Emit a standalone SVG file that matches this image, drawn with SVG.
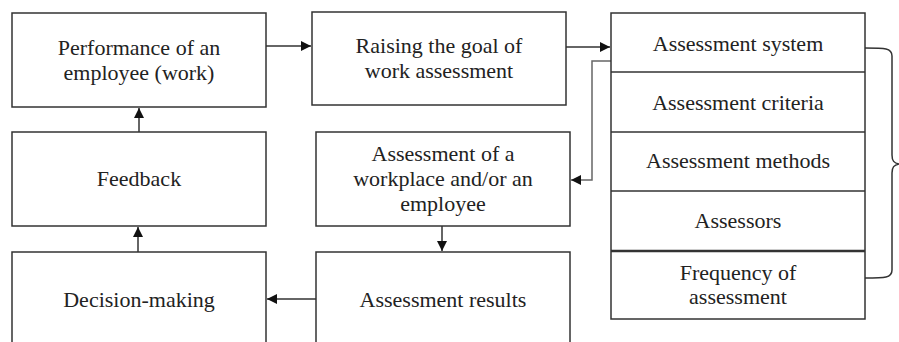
<svg xmlns="http://www.w3.org/2000/svg" width="899" height="342" viewBox="0 0 899 342">
  <defs>
    <marker id="arrow" viewBox="0 0 10 10" refX="10" refY="5" markerWidth="10" markerHeight="10" markerUnits="userSpaceOnUse" orient="auto">
      <path d="M0,0 L10,5 L0,10 Z" fill="#111"/>
    </marker>
    <style>
      .box { fill: #fff; stroke: #333; stroke-width: 1.5; }
      .lbl { font-family: "Times New Roman", "Liberation Serif", serif; font-size: 22px; fill: #222; text-anchor: middle; }
    </style>
  </defs>
  <rect width="899" height="342" fill="#fff"/>

  <!-- arrows and the brace -->
  <g id="connectors" fill="none" stroke="#333" stroke-width="1.5">
    <line x1="266" y1="46" x2="311" y2="46" marker-end="url(#arrow)"/>
    <line x1="566" y1="47" x2="610" y2="47" marker-end="url(#arrow)"/>
    <polyline stroke="#666" points="611,61 592,61 592,180 571,180" marker-end="url(#arrow)"/>
    <line x1="442" y1="226" x2="442" y2="251" marker-end="url(#arrow)"/>
    <line x1="316" y1="299" x2="267" y2="299" marker-end="url(#arrow)"/>
    <line x1="138" y1="252" x2="138" y2="227" marker-end="url(#arrow)"/>
    <line x1="139" y1="132" x2="139" y2="108" marker-end="url(#arrow)"/>
    <path d="M865,48 C885,48 892,48 892,56 L892,155 C892,161 894,163 899,164 C894,165 892,167 892,173 L892,270 C892,278 885,278 865,278"/>
  </g>

  <g id="performance">
    <rect class="box" x="12" y="13" width="254" height="94"/>
    <text class="lbl" x="139" y="55">Performance of an</text>
    <text class="lbl" x="139" y="80">employee (work)</text>
  </g>

  <g id="raising-goal">
    <rect class="box" x="312" y="12" width="254" height="93"/>
    <text class="lbl" x="439" y="53">Raising the goal of</text>
    <text class="lbl" x="439" y="78">work assessment</text>
  </g>

  <g id="assessment-stack">
    <rect class="box" x="611" y="13" width="254" height="306"/>
    <g stroke="#333" stroke-width="1.5">
      <line x1="611" y1="72" x2="865" y2="72"/>
      <line x1="611" y1="132" x2="865" y2="132"/>
      <line x1="611" y1="191" x2="865" y2="191"/>
      <line x1="611" y1="251" x2="865" y2="251" stroke-width="2.5"/>
    </g>
    <text class="lbl" x="738" y="51">Assessment system</text>
    <text class="lbl" x="738" y="110">Assessment criteria</text>
    <text class="lbl" x="738" y="168">Assessment methods</text>
    <text class="lbl" x="738" y="228">Assessors</text>
    <text class="lbl" x="738" y="280">Frequency of</text>
    <text class="lbl" x="738" y="304">assessment</text>
  </g>

  <g id="assessment-workplace">
    <rect class="box" x="316" y="132" width="254" height="94"/>
    <text class="lbl" x="443" y="161">Assessment of a</text>
    <text class="lbl" x="443" y="186">workplace and/or an</text>
    <text class="lbl" x="443" y="211">employee</text>
  </g>

  <g id="assessment-results">
    <rect class="box" x="316" y="252" width="254" height="100"/>
    <text class="lbl" x="443" y="307">Assessment results</text>
  </g>

  <g id="feedback">
    <rect class="box" x="12" y="132" width="254" height="94"/>
    <text class="lbl" x="139" y="186">Feedback</text>
  </g>

  <g id="decision-making">
    <rect class="box" x="12" y="252" width="254" height="100"/>
    <text class="lbl" x="139" y="307">Decision-making</text>
  </g>
</svg>
